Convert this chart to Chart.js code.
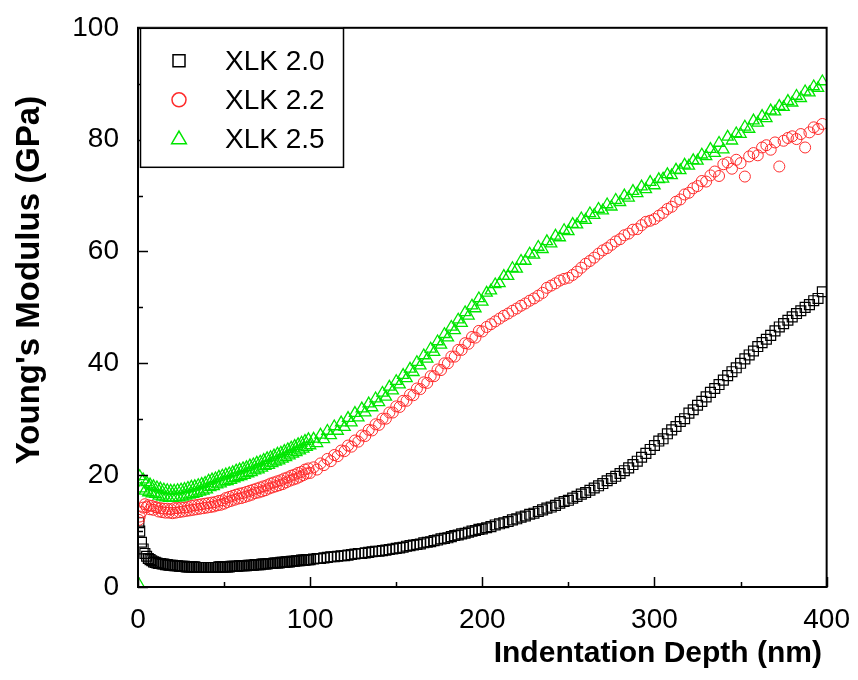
<!DOCTYPE html>
<html lang="en">
<head>
    <meta charset="UTF-8">
    <title>Young's Modulus vs Indentation Depth</title>
    <script src="https://cdn.jsdelivr.net/npm/chart.js/dist/chart.umd.min.js"></script>
    <style>
        body { margin: 0; background: #fff; }
    </style>
</head>
<body>
    <canvas id="modulusChart" width="858" height="680"></canvas>
    <script>
// indentation depth (nm), shared by all three samples
// (the instrument samples densely near the surface)
const depth = [
    0.5,
    1, 2, 3, 4, 5, 6, 7, 8, 9, 10,
    11, 12, 13, 14, 15, 16, 17, 18, 19, 20,
    21, 22, 23, 24, 25, 26, 27, 28, 29, 30,
    31, 32, 33, 34, 35, 36, 37, 38, 39, 40,
    41, 42, 43, 44, 45, 46, 47, 48, 49, 50,
    51, 52, 53, 54, 55, 56, 57, 58, 59, 60,
    61, 62, 63, 64, 65, 66, 67, 68, 69, 70,
    71, 72, 73, 74, 75, 76, 77, 78, 79, 80,
    81, 82, 83, 84, 85, 86, 87, 88, 89, 90,
    91, 92, 93, 94, 95, 96, 97, 98, 99, 100,
    102, 104, 106, 108, 110, 112, 114, 116, 118, 120,
    122, 124, 126, 128, 130, 132, 134, 136, 138, 140,
    142, 144, 146, 148, 150, 152, 154, 156, 158, 160,
    162, 164, 166, 168, 170, 172, 174, 176, 178, 180,
    182, 184, 186, 188, 190, 192, 194, 196, 198, 200,
    202.5, 205, 207.5, 210, 212.5, 215, 217.5, 220, 222.5, 225,
    227.5, 230, 232.5, 235, 237.5, 240, 242.5, 245, 247.5, 250,
    252.5, 255, 257.5, 260, 262.5, 265, 267.5, 270, 272.5, 275,
    277.5, 280, 282.5, 285, 287.5, 290, 292.5, 295, 297.5, 300,
    302.5, 305, 307.5, 310, 312.5, 315, 317.5, 320, 322.5, 325,
    327.5, 330, 332.5, 335, 337.5, 340, 342.5, 345, 347.5, 350,
    352.5, 355, 357.5, 360, 362.5, 365, 367.5, 370, 372.5, 375,
    377.5, 380, 382.5, 385, 387.5, 390, 392.5, 395, 397.5
];

// Young's modulus (GPa)
const xlk20 = [
    11.5,
    10.0, 8.0, 6.8, 6.0, 5.5, 5.1, 4.9, 4.7, 4.5, 4.4,
    4.3, 4.2, 4.2, 4.1, 4.1, 4.0, 4.0, 3.9, 3.9, 3.9,
    3.8, 3.8, 3.8, 3.7, 3.7, 3.7, 3.7, 3.6, 3.6, 3.6,
    3.6, 3.6, 3.6, 3.5, 3.5, 3.5, 3.5, 3.5, 3.5, 3.5,
    3.5, 3.5, 3.5, 3.5, 3.5, 3.5, 3.6, 3.6, 3.6, 3.6,
    3.6, 3.6, 3.6, 3.7, 3.7, 3.7, 3.7, 3.7, 3.8, 3.8,
    3.8, 3.8, 3.8, 3.9, 3.9, 3.9, 3.9, 4.0, 4.0, 4.0,
    4.0, 4.1, 4.1, 4.1, 4.1, 4.2, 4.2, 4.2, 4.3, 4.3,
    4.3, 4.3, 4.4, 4.4, 4.4, 4.5, 4.5, 4.5, 4.6, 4.6,
    4.6, 4.7, 4.7, 4.7, 4.8, 4.8, 4.8, 4.9, 4.9, 4.9,
    5.0, 5.1, 5.1, 5.2, 5.3, 5.4, 5.4, 5.5, 5.6, 5.6,
    5.7, 5.8, 5.9, 6.0, 6.0, 6.1, 6.2, 6.3, 6.4, 6.4,
    6.5, 6.6, 6.7, 6.8, 6.9, 7.0, 7.1, 7.3, 7.4, 7.5,
    7.6, 7.7, 7.9, 8.0, 8.1, 8.3, 8.4, 8.6, 8.7, 8.8,
    9.0, 9.2, 9.3, 9.5, 9.6, 9.8, 10.0, 10.1, 10.3, 10.4,
    10.6, 10.8, 11.1, 11.3, 11.5, 11.7, 12.0, 12.2, 12.5, 12.7,
    13.0, 13.2, 13.5, 13.8, 14.1, 14.3, 14.6, 15.0, 15.3, 15.5,
    15.9, 16.2, 16.6, 16.9, 17.3, 17.7, 18.1, 18.5, 19.0, 19.4,
    19.8, 20.3, 20.8, 21.3, 21.9, 22.5, 23.2, 23.9, 24.6, 25.3,
    26.1, 26.5, 27.4, 28.1, 28.7, 29.6, 30.1, 31.1, 31.7, 32.5,
    33.2, 34.0, 34.8, 35.5, 36.2, 37.0, 37.8, 38.5, 39.2, 40.0,
    40.8, 41.5, 42.2, 43.0, 43.7, 44.3, 45.0, 45.8, 46.5, 47.1,
    47.7, 48.3, 48.9, 49.4, 50.0, 50.5, 51.2, 51.6, 52.8
];
const xlk22 = [
    12.0,
    12.6, 13.4, 14.2, 14.8, 14.3, 14.6, 13.9, 14.5, 13.8, 14.3,
    14.2, 13.5, 14.1, 13.4, 14.0, 13.3, 14.0, 13.3, 13.9, 13.2,
    14.1, 13.3, 14.1, 13.4, 14.2, 13.5, 14.2, 13.6, 14.3, 13.7,
    14.5, 13.8, 14.6, 13.9, 14.7, 14.0, 14.8, 14.1, 14.9, 14.2,
    15.0, 14.3, 15.1, 14.4, 15.2, 14.6, 15.4, 14.7, 15.5, 14.9,
    15.9, 15.2, 16.1, 15.4, 16.3, 15.6, 16.5, 15.8, 16.7, 15.9,
    16.8, 16.1, 17.0, 16.3, 17.2, 16.5, 17.4, 16.8, 17.6, 16.9,
    17.8, 17.1, 18.0, 17.3, 18.2, 17.6, 18.5, 17.8, 18.7, 18.0,
    18.9, 18.2, 19.1, 18.4, 19.4, 18.7, 19.6, 19.0, 19.9, 19.2,
    20.1, 19.4, 20.4, 19.7, 20.6, 20.0, 21.0, 20.3, 21.2, 20.4,
    21.4, 21.0, 22.1, 21.8, 22.9, 22.5, 23.6, 23.4, 24.4, 24.3,
    25.3, 25.1, 26.2, 26.0, 27.1, 27.0, 28.1, 28.0, 29.1, 29.0,
    30.1, 30.1, 31.2, 31.2, 32.3, 32.2, 33.3, 33.3, 34.4, 34.3,
    35.5, 35.4, 36.6, 36.5, 37.7, 37.7, 38.9, 38.8, 40.0, 40.0,
    41.2, 41.2, 42.4, 42.4, 43.6, 43.5, 44.7, 44.6, 45.8, 45.7,
    46.5, 47.0, 47.5, 48.0, 48.5, 48.9, 49.4, 49.8, 50.3, 50.7,
    51.2, 51.6, 52.1, 52.6, 53.5, 53.9, 54.3, 54.8, 55.1, 55.3,
    55.8, 56.4, 57.1, 57.8, 58.3, 58.9, 59.6, 60.2, 60.6, 61.2,
    61.8, 62.2, 62.9, 63.2, 63.9, 64.0, 64.7, 65.3, 65.5, 65.8,
    66.4, 66.9, 67.6, 68.0, 68.9, 69.3, 70.2, 70.5, 71.3, 71.7,
    72.6, 72.5, 73.6, 74.3, 73.5, 75.6, 75.9, 74.8, 76.4, 75.8,
    73.4, 77.0, 77.6, 77.2, 78.6, 79.0, 78.2, 79.5, 75.2, 79.8,
    80.3, 80.6, 80.1, 81.0, 78.6, 81.3, 82.2, 81.9, 82.8
];
const xlk25 = [
    0.5,
    19.8, 17.6, 19.2, 17.2, 18.7, 16.9, 18.3, 16.7, 18.0, 16.6,
    17.8, 16.3, 17.6, 16.1, 17.4, 16.0, 17.3, 15.9, 17.2, 15.9,
    17.2, 16.0, 17.3, 16.0, 17.4, 16.1, 17.5, 16.3, 17.7, 16.5,
    17.9, 16.6, 18.0, 16.8, 18.2, 17.0, 18.4, 17.2, 18.6, 17.4,
    19.0, 17.8, 19.2, 18.0, 19.4, 18.3, 19.7, 18.5, 19.9, 18.8,
    20.1, 18.9, 20.3, 19.1, 20.5, 19.4, 20.8, 19.6, 21.0, 19.8,
    21.2, 20.0, 21.4, 20.3, 21.7, 20.5, 21.9, 20.8, 22.2, 21.0,
    22.4, 21.3, 22.7, 21.6, 23.0, 21.8, 23.2, 22.1, 23.5, 22.4,
    23.8, 22.6, 24.0, 22.9, 24.3, 23.2, 24.6, 23.5, 24.9, 23.8,
    25.2, 24.1, 25.5, 24.4, 25.8, 24.7, 26.1, 25.0, 26.4, 25.3,
    26.5, 25.7, 27.2, 26.4, 27.9, 27.1, 28.7, 27.9, 29.4, 28.6,
    30.2, 29.4, 31.1, 30.3, 31.9, 31.2, 32.8, 32.1, 33.7, 33.0,
    34.7, 34.0, 35.8, 35.1, 36.8, 36.2, 37.9, 37.3, 39.0, 38.4,
    40.2, 39.6, 41.4, 40.8, 42.6, 42.0, 43.9, 43.3, 45.2, 44.6,
    46.5, 45.9, 47.8, 47.2, 49.1, 48.5, 50.3, 49.8, 51.6, 51.0,
    52.6, 53.0, 54.1, 54.3, 55.6, 55.6, 57.0, 56.9, 58.3, 58.3,
    59.6, 59.4, 60.8, 60.4, 61.8, 61.4, 62.8, 62.5, 63.8, 63.6,
    64.9, 64.8, 65.9, 65.6, 66.8, 66.5, 67.6, 67.3, 68.4, 68.0,
    69.2, 68.8, 70.0, 69.6, 70.8, 70.4, 71.6, 71.1, 72.4, 71.8,
    72.9, 73.0, 73.8, 73.6, 74.6, 74.5, 75.5, 75.3, 76.3, 76.2,
    77.3, 77.0, 78.3, 77.6, 79.4, 78.2, 80.5, 79.8, 81.1, 81.0,
    82.3, 81.9, 83.4, 83.0, 84.2, 83.8, 85.2, 85.0, 86.0, 85.8,
    86.9, 86.6, 87.8, 87.4, 88.6, 88.4, 89.5, 89.2, 90.4
];

const seriesNames = ["XLK 2.0", "XLK 2.2", "XLK 2.5"];
const xTicks = [0, 100, 200, 300, 400];
const yTicks = [0, 20, 40, 60, 80, 100];

const FONT = "'Liberation Sans', Arial, sans-serif";

function toPoints(ys) {
    return ys.map((y, i) => ({ x: depth[i], y: y }));
}

// draw one hollow marker (used for the legend)
function marker(ctx, style, x, y, r, color) {
    ctx.save();
    ctx.strokeStyle = color;
    ctx.lineWidth = 1.5;
    ctx.beginPath();
    if (style === "rect") {
        ctx.rect(x - r, y - r, 2 * r, 2 * r);
    } else if (style === "circle") {
        ctx.arc(x, y, r, 0, Math.PI * 2);
    } else {
        ctx.moveTo(x, y - r * 1.1);
        ctx.lineTo(x + r * 1.05, y + r * 0.7);
        ctx.lineTo(x - r * 1.05, y + r * 0.7);
        ctx.closePath();
    }
    ctx.stroke();
    ctx.restore();
}

// frame, inward ticks, legend box and axis titles
const framePlugin = {
    id: "frame",
    afterDatasetsDraw(chart) {
        const ctx = chart.ctx;
        const a = chart.chartArea;
        const sx = chart.scales.x, sy = chart.scales.y;
        ctx.save();
        ctx.strokeStyle = "#000";
        ctx.lineWidth = 2;
        ctx.strokeRect(a.left, a.top, a.right - a.left, a.bottom - a.top);

        ctx.lineWidth = 1.5;
        ctx.beginPath();
        for (let v = 0; v <= 400; v += 50) {
            const px = Math.round(sx.getPixelForValue(v)) + 0.5;
            const len = v % 100 === 0 ? 10 : 5;
            ctx.moveTo(px, a.bottom);
            ctx.lineTo(px, a.bottom - len);
        }
        for (let v = 0; v <= 100; v += 10) {
            const py = Math.round(sy.getPixelForValue(v)) + 0.5;
            const len = v % 20 === 0 ? 10 : 5;
            ctx.moveTo(a.left, py);
            ctx.lineTo(a.left + len, py);
        }
        ctx.stroke();

        // legend
        const lx = a.left + 2, ly = a.top;
        ctx.fillStyle = "#fff";
        ctx.fillRect(lx, ly, 203, 139);
        ctx.lineWidth = 1.5;
        ctx.strokeRect(lx + 0.5, ly + 0.5, 203, 139);
        ctx.font = "28px " + FONT;
        ctx.fillStyle = "#000";
        ctx.textBaseline = "middle";
        ctx.textAlign = "left";
        chart.data.datasets.forEach((ds, i) => {
            const rowY = ly + 33 + i * 39;
            marker(ctx, ds.pointStyle, lx + 39, rowY, ds.pointStyle === "rect" ? 6 : 7, ds.borderColor);
            ctx.fillText(ds.label, lx + 85, rowY + 1);
        });

        // axis titles
        ctx.font = "bold 30px " + FONT;
        ctx.textAlign = "right";
        ctx.textBaseline = "alphabetic";
        ctx.fillText("Indentation Depth (nm)", 822, 662);
        ctx.save();
        ctx.translate(30, 280);
        ctx.rotate(-Math.PI / 2);
        ctx.textAlign = "center";
        ctx.textBaseline = "middle";
        ctx.font = "bold 33px " + FONT;
        ctx.fillText("Young's Modulus (GPa)", 0, 0);
        ctx.restore();
        ctx.restore();
    }
};

new Chart(document.getElementById("modulusChart").getContext("2d"), {
    type: "scatter",
    data: {
        datasets: [
            {
                label: seriesNames[0],
                data: toPoints(xlk20),
                pointStyle: "rect",
                pointRadius: 7,
                borderColor: "#000",
                backgroundColor: "rgba(0,0,0,0)",
                borderWidth: 1.2,
                order: 3
            },
            {
                label: seriesNames[1],
                data: toPoints(xlk22),
                pointStyle: "circle",
                pointRadius: 5.5,
                borderColor: "#ff2a2a",
                backgroundColor: "rgba(0,0,0,0)",
                borderWidth: 1,
                order: 2
            },
            {
                label: seriesNames[2],
                data: toPoints(xlk25),
                pointStyle: "triangle",
                pointRadius: 6.5,
                borderColor: "#00e600",
                backgroundColor: "rgba(0,0,0,0)",
                borderWidth: 1.3,
                order: 1
            }
        ]
    },
    options: {
        responsive: false,
        animation: false,
        layout: { padding: { top: 27, right: 29, left: 0, bottom: 0 } },
        plugins: {
            legend: { display: false },
            tooltip: { enabled: false }
        },
        scales: {
            x: {
                type: "linear",
                min: 0,
                max: 400,
                afterBuildTicks: s => { s.ticks = xTicks.map(v => ({ value: v })); },
                afterFit: s => { s.height = 93; },
                grid: { display: false },
                border: { display: false },
                ticks: { color: "#000", font: { family: FONT, size: 28 }, padding: 8, maxRotation: 0 }
            },
            y: {
                min: 0,
                max: 100,
                afterBuildTicks: s => { s.ticks = yTicks.map(v => ({ value: v })); },
                afterFit: s => { s.width = 138; },
                grid: { display: false },
                border: { display: false },
                ticks: { color: "#000", font: { family: FONT, size: 28 }, padding: 11 }
            }
        }
    },
    plugins: [framePlugin]
});
    </script>
</body>
</html>
